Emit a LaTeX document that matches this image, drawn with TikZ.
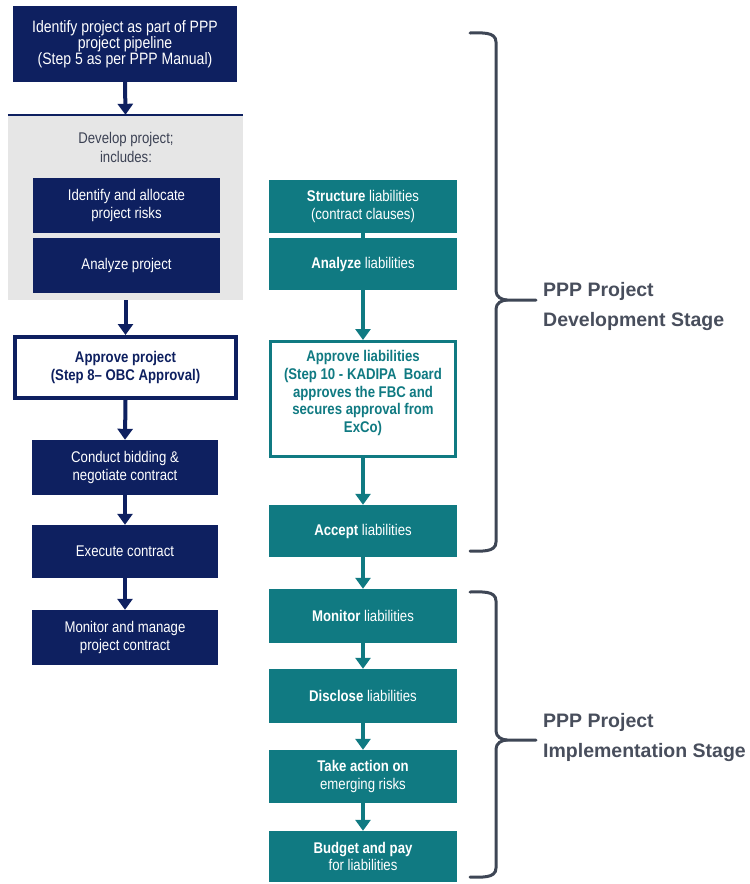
\documentclass[tikz,border=0pt]{standalone}
\usepackage{fontspec}
\setmainfont{Liberation Sans}
\newfontfamily\boxfont{Liberation Sans}[FakeStretch=0.85]
\usetikzlibrary{arrows.meta}
\definecolor{navyc}{RGB}{14,32,96}
\definecolor{tealc}{RGB}{16,122,130}
\definecolor{greyc}{RGB}{230,230,230}
\definecolor{brkc}{RGB}{62,70,85}
\definecolor{lblc}{RGB}{72,78,92}
\definecolor{devc}{RGB}{60,66,84}
\tikzset{
  base/.style={rectangle, inner sep=0pt, align=center, font={\boxfont\fontsize{15.5}{17.5}\selectfont}},
  navybox/.style={base, fill=navyc, text=white, minimum width=186pt, minimum height=55pt},
  tealbox/.style={base, fill=tealc, text=white, minimum width=188pt, minimum height=53pt},
  navyarr/.style={draw=navyc, line width=4pt, -{Triangle[width=15pt,length=11pt]}},
  tealarr/.style={draw=tealc, line width=4pt, -{Triangle[width=15pt,length=11pt]}},
  brk/.style={draw=brkc, line width=3pt, line cap=round},
  lbl/.style={anchor=west, align=left, text=lblc, inner sep=0pt, font={\bfseries\fontsize{19.5}{30}\selectfont}}
}
\begin{document}
\begin{tikzpicture}[x=1pt,y=1pt]
\useasboundingbox (0,0) rectangle (750,-884);
% ---------- left column ----------
\node[navybox, minimum width=224pt, minimum height=76pt, font={\boxfont\fontsize{16.5}{16}\selectfont}] (n1) at (125,-44) {Identify project as part of PPP\\project pipeline\\(Step 5 as per PPP Manual)};
\node[fill=greyc, minimum width=235pt, minimum height=185pt, inner sep=0pt] (g) at (125.5,-207.5) {};
\draw[navyc, line width=2.5pt] (g.north west) -- (g.north east);
\node[base, text=devc, font={\boxfont\fontsize{15.5}{19}\selectfont}] (dv) at (126,-147) {Develop project;\\includes:};
\node[navybox, minimum width=187pt] (ia) at (126.5,-205.5) {Identify and allocate\\project risks};
\node[navybox, minimum width=187pt] (ib) at (126.5,-265.5) {Analyze project};
\node[base, draw=navyc, line width=4pt, fill=white, text=navyc, minimum width=221pt, minimum height=61pt, font={\boxfont\bfseries\fontsize{15.5}{18}\selectfont}] (ap) at (125.5,-367.5) {Approve project\\(Step 8– OBC Approval)};
\node[navybox] (cb) at (125,-467.5) {Conduct bidding \&\\negotiate contract};
\node[navybox, minimum height=53pt] (ex) at (125,-551.5) {Execute contract};
\node[navybox] (mm) at (125,-637.5) {Monitor and manage\\project contract};
\draw[navyarr] (n1.south) -- (g.north);
\draw[navyarr] (g.south) -- (ap.north);
\draw[navyarr] (ap.south) -- (cb.north);
\draw[navyarr] (cb.south) -- (ex.north);
\draw[navyarr] (ex.south) -- (mm.north);
% ---------- right column ----------
\node[tealbox] (st) at (363,-206.5) {\textbf{Structure} liabilities\\(contract clauses)};
\node[tealbox, minimum height=52pt] (an) at (363,-264) {\textbf{Analyze} liabilities};
\node[draw=tealc, line width=3pt, fill=white, minimum width=185pt, minimum height=115pt, inner sep=0pt] (al) at (363,-399) {};
\node[base, text=tealc, font={\boxfont\bfseries\fontsize{15.5}{17.75}\selectfont}] (alt) at (363,-393) {Approve liabilities\\(Step 10 - KADIPA~ Board\\approves the FBC and\\secures approval from\\ExCo)};
\node[tealbox, minimum height=52pt] (ac) at (363,-531) {\textbf{Accept} liabilities};
\node[tealbox, minimum height=54pt] (mo) at (363,-616) {\textbf{Monitor} liabilities};
\node[tealbox, minimum height=54pt] (di) at (363,-696) {\textbf{Disclose} liabilities};
\node[tealbox] (ta) at (363,-776.5) {\textbf{Take action on}\\emerging risks};
\node[tealbox, minimum height=51pt] (bp) at (363,-856.5) {\textbf{Budget and pay}\\for liabilities};
\draw[draw=tealc, line width=4pt] (st.south) -- (an.north);
\draw[tealarr] (an.south) -- (al.north);
\draw[tealarr] (al.south) -- (ac.north);
\draw[tealarr] (ac.south) -- (mo.north);
\draw[tealarr] (mo.south) -- (di.north);
\draw[tealarr] (di.south) -- (ta.north);
\draw[tealarr] (ta.south) -- (bp.north);
% ---------- brackets ----------
\coordinate (d1) at (470,-33);
\coordinate (d2) at (536,-300);
\coordinate (d3) at (470,-551);
\draw[brk] (d1) to[out=0,in=90] (496,-42) -- (496,-291) to[out=-90,in=180] (507,-300) -- (d2);
\draw[brk] (507,-300) to[out=180,in=90] (496,-309) -- (496,-542) to[out=-90,in=0] (d3);
\node[lbl] (ld) at (543,-306) {PPP Project\\Development Stage};
\coordinate (e1) at (470,-592);
\coordinate (e2) at (536,-740);
\coordinate (e3) at (470,-877);
\draw[brk] (e1) to[out=0,in=90] (496,-601) -- (496,-731) to[out=-90,in=180] (507,-740) -- (e2);
\draw[brk] (507,-740) to[out=180,in=90] (496,-749) -- (496,-868) to[out=-90,in=0] (e3);
\node[lbl] (li) at (543,-737) {PPP Project\\Implementation Stage};
\end{tikzpicture}
\end{document}
